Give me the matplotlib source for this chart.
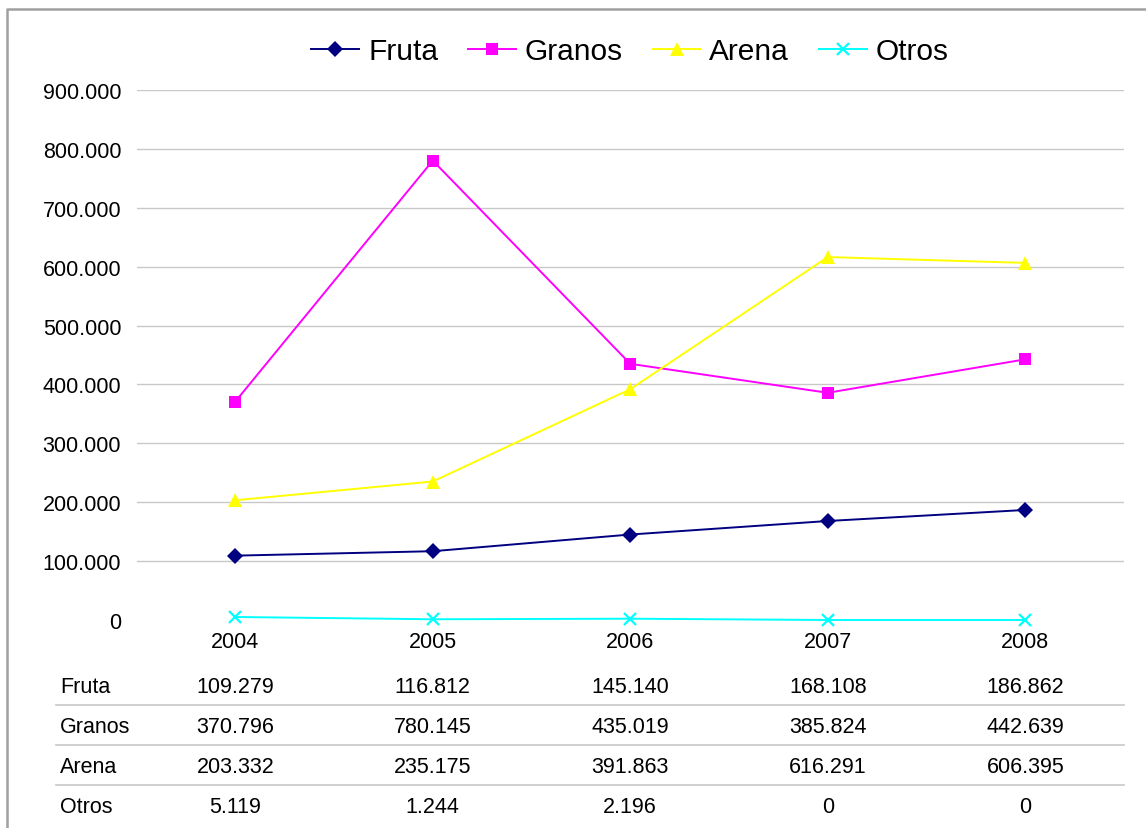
import matplotlib

matplotlib.use("Agg")

import matplotlib.pyplot as plt
from matplotlib.lines import Line2D
from matplotlib.ticker import FuncFormatter
from matplotlib.transforms import blended_transform_factory


years = ["2004", "2005", "2006", "2007", "2008"]
series_names = ["Fruta", "Granos", "Arena", "Otros"]
fruta = [109279, 116812, 145140, 168108, 186862]
granos = [370796, 780145, 435019, 385824, 442639]
arena = [203332, 235175, 391863, 616291, 606395]
otros = [5119, 1244, 2196, 0, 0]
y_ticks = [0, 100000, 200000, 300000, 400000, 500000, 600000, 700000, 800000, 900000]

colors = ["#000080", "#FF00FF", "#FFFF00", "#00FFFF"]
markers = ["D", "s", "^", "x"]
marker_sizes = [8.5, 8.5, 10.5, 9]


def thousands(value, _pos=None):
    if value == 0:
        return "0"
    return f"{int(round(value)):,}".replace(",", ".")


plt.rcParams["font.family"] = ["Liberation Sans", "DejaVu Sans"]

W, H = 1146, 829
fig = plt.figure(figsize=(W / 100, H / 100), dpi=100)

# plot area in pixels: x 136.5..1124, y 91..621
ax = fig.add_axes([136.5 / W, 1 - 621 / H, (1124 - 136.5) / W, (621 - 91) / H])

all_series = [fruta, granos, arena, otros]
x = list(range(len(years)))
handles = []
for name, values, color, marker, ms in zip(series_names, all_series, colors, markers, marker_sizes):
    (line,) = ax.plot(
        x,
        values,
        color=color,
        marker=marker,
        markersize=ms,
        markeredgewidth=1.6 if marker == "x" else 0,
        linewidth=1.4,
        label=name,
        clip_on=False,
        zorder=3,
    )
    handles.append(line)

ax.set_xlim(-0.5, len(years) - 0.5)
ax.set_ylim(0, 900000)
ax.set_yticks(y_ticks)
ax.yaxis.set_major_formatter(FuncFormatter(thousands))
ax.set_xticks(x)
ax.set_xticklabels(years)
ax.tick_params(axis="y", length=0, pad=11, labelsize=15.5)
ax.tick_params(axis="x", length=0, pad=8, labelsize=15.5)
ax.grid(axis="y", color="#c8c8c8", linewidth=1)
ax.yaxis.get_gridlines()[0].set_visible(False)
ax.set_axisbelow(True)
for spine in ax.spines.values():
    spine.set_visible(False)

fig.legend(
    handles=handles,
    loc="center",
    bbox_to_anchor=(630 / W, 1 - 52 / H),
    ncol=4,
    frameon=False,
    fontsize=21.5,
    handlelength=1.6,
    handletextpad=0.3,
    columnspacing=1.0,
)

# data table below the chart
trans = blended_transform_factory(ax.transData, fig.transFigure)
row_centers = [688, 728, 768, 808]
for name, values, yc in zip(series_names, all_series, row_centers):
    fig.text(60 / W, 1 - yc / H, name, ha="left", va="center", fontsize=15.5)
    for xi, v in zip(x, values):
        ax.text(xi, 1 - yc / H, thousands(v), transform=trans, ha="center", va="center",
                fontsize=15.5, clip_on=False)

for y_sep in [706, 746, 786]:
    fig.add_artist(Line2D([56 / W, 1124 / W], [1 - y_sep / H, 1 - y_sep / H],
                          transform=fig.transFigure, color="#c8c8c8", linewidth=1.2))

# outer frame (left and top edges visible)
fig.add_artist(Line2D([7 / W, 7 / W, 1.0], [0.0, 1 - 10 / H, 1 - 10 / H],
                      transform=fig.transFigure, color="#a0a0a0", linewidth=1.8))

fig.savefig("out.png", dpi=100)
